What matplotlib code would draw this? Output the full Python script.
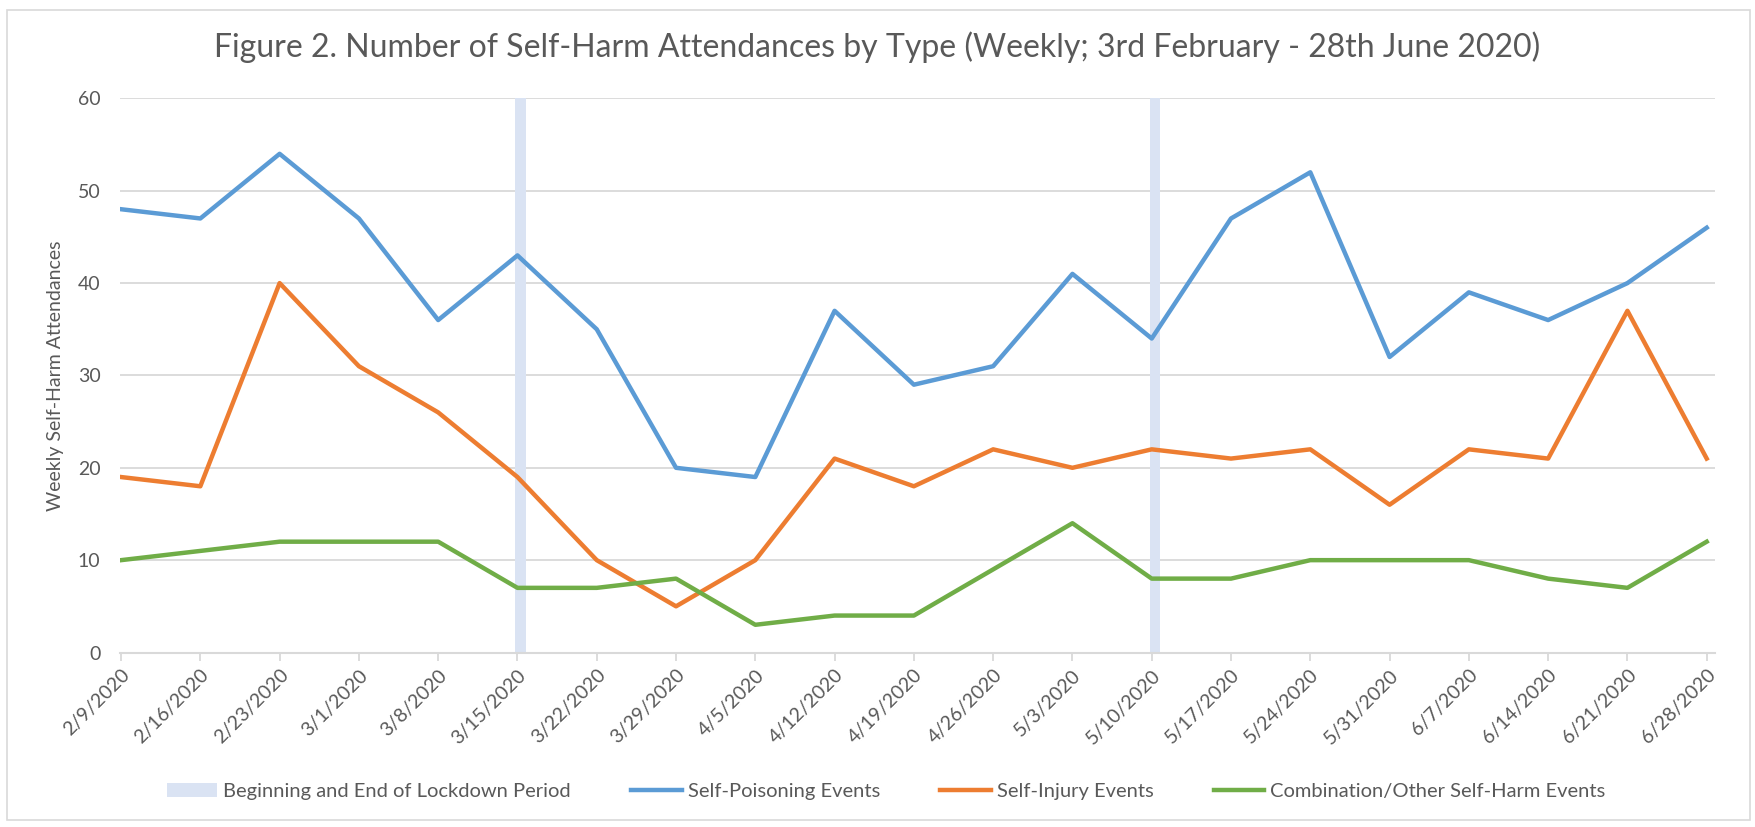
import matplotlib.pyplot as plt
from matplotlib.patches import Rectangle

plt.rcParams['font.family'] = ['Lato', 'DejaVu Sans']

# weekly data
weeks = ['2/9/2020', '2/16/2020', '2/23/2020', '3/1/2020', '3/8/2020', '3/15/2020',
         '3/22/2020', '3/29/2020', '4/5/2020', '4/12/2020', '4/19/2020', '4/26/2020',
         '5/3/2020', '5/10/2020', '5/17/2020', '5/24/2020', '5/31/2020', '6/7/2020',
         '6/14/2020', '6/21/2020', '6/28/2020']
self_poisoning = [48, 47, 54, 47, 36, 43, 35, 20, 19, 37, 29, 31, 41, 34, 47, 52, 32, 39, 36, 40, 46]
self_injury = [19, 18, 40, 31, 26, 19, 10, 5, 10, 21, 18, 22, 20, 22, 21, 22, 16, 22, 21, 37, 21]
combination = [10, 11, 12, 12, 12, 7, 7, 8, 3, 4, 4, 9, 14, 8, 8, 10, 10, 10, 8, 7, 12]
lockdown = [0, 0, 0, 0, 0, 60, 0, 0, 0, 0, 0, 0, 0, 60, 0, 0, 0, 0, 0, 0, 0]

txt = '#595959'
grid_c = '#D9D9D9'

fig = plt.figure(figsize=(17.55, 8.27), dpi=100)
ax = fig.add_axes([0.0683, 0.211, 0.9087, 0.670])

x = list(range(len(weeks)))

ax.bar([i + 0.04 for i in x], lockdown, width=0.13, color='#DAE3F3',
       label='Beginning and End of Lockdown Period', zorder=1)
ax.plot(x, self_poisoning, color='#5B9BD5', lw=3.2, label='Self-Poisoning Events', zorder=3)
ax.plot(x, self_injury, color='#ED7D31', lw=3.2, label='Self-Injury Events', zorder=3)
ax.plot(x, combination, color='#70AD47', lw=3.2, label='Combination/Other Self-Harm Events', zorder=3)

ax.set_xlim(-0.015, 20.1)
ax.set_ylim(0, 60)
ax.set_yticks(range(0, 61, 10))
ax.set_xticks(x)
ax.set_xticklabels(weeks, rotation=45, ha='right', rotation_mode='anchor')
ax.grid(axis='y', color=grid_c, lw=1.3, zorder=0)
ax.set_axisbelow(True)

for s in ['top', 'right', 'left']:
    ax.spines[s].set_visible(False)
ax.spines['bottom'].set_color(grid_c)
ax.spines['bottom'].set_linewidth(1.5)
ax.tick_params(axis='y', length=0, pad=14, labelsize=14, labelcolor=txt)
ax.tick_params(axis='x', length=6, width=1.3, color=grid_c, pad=4, labelsize=14, labelcolor=txt)

ax.set_ylabel('Weekly Self-Harm Attendances', fontsize=14, color=txt, labelpad=10)

fig.suptitle('Figure 2. Number of Self-Harm Attendances by Type (Weekly; 3rd February - 28th June 2020)',
             fontsize=23, color=txt, y=0.962)

handles, labels = ax.get_legend_handles_labels()
order = [3, 0, 1, 2]
leg = fig.legend([handles[i] for i in order], [labels[i] for i in order],
                 loc='center', bbox_to_anchor=(0.505, 0.043), ncol=4, frameon=False,
                 fontsize=14.5, handlelength=2.5, handletextpad=0.3, columnspacing=3.0)
for t in leg.get_texts():
    t.set_color(txt)

fig.patches.append(Rectangle((0.004, 0.008), 0.993, 0.98, transform=fig.transFigure,
                             fill=False, edgecolor=grid_c, lw=1.2))

fig.savefig('out.png', dpi=100)
